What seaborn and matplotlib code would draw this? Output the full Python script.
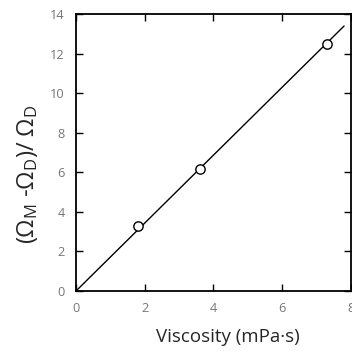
import numpy as np
import pandas as pd
import matplotlib
matplotlib.use("Agg")
import matplotlib.pyplot as plt
import seaborn as sns

# measured points
viscosity = [1.8, 3.6, 7.3]
ratio = [3.3, 6.15, 12.5]
# fit line through origin, drawn over this range
fit_range = [0.0, 7.8]

x_ticks = [0, 2, 4, 6, 8]
y_ticks = [0, 2, 4, 6, 8, 10, 12, 14]

sns.set_style("ticks")
plt.rcParams["font.family"] = ["Open Sans", "DejaVu Sans"]
plt.rcParams["mathtext.fontset"] = "custom"
plt.rcParams["mathtext.rm"] = "Open Sans"
plt.rcParams["mathtext.it"] = "Open Sans"

x = np.array(viscosity)
y = np.array(ratio)
slope = (x * y).sum() / (x * x).sum()
fit = pd.DataFrame({"x": fit_range, "y": [slope * v for v in fit_range]})
pts = pd.DataFrame({"x": viscosity, "y": ratio})

fig = plt.figure(figsize=(3.52, 3.51), dpi=100)
ax = fig.add_axes([0.216, 0.171, 0.781, 0.789])

sns.lineplot(data=fit, x="x", y="y", color="black", linewidth=1.0, ax=ax)
sns.scatterplot(data=pts, x="x", y="y", marker="o", s=45, facecolor="white",
                edgecolor="black", linewidth=1.0, zorder=3, ax=ax)

ax.set_xlim(0, 8)
ax.set_ylim(0, 14)
ax.set_xticks(x_ticks)
ax.set_yticks(y_ticks)
ax.tick_params(direction="in", length=5, width=1.0, top=True, right=True,
               labelsize=9.2, labelcolor="#767676", pad=8, color="black")
for s in ax.spines.values():
    s.set_linewidth(1.3)
    s.set_color("black")
    s.set_visible(True)

ax.set_xlabel("Viscosity (mPa·s)", fontsize=13.5)
ax.xaxis.set_label_coords(0.554, -0.165)
ax.set_ylabel(r"$(\Omega_\mathrm{M}$ -$\Omega_\mathrm{D})$/ $\Omega_\mathrm{D}$",
              fontsize=17)
ax.yaxis.set_label_coords(-0.178, 0.42)
ax.yaxis.label.set_va("center")
ax.xaxis.label.set_va("center")

fig.savefig("out.png", dpi=100)
